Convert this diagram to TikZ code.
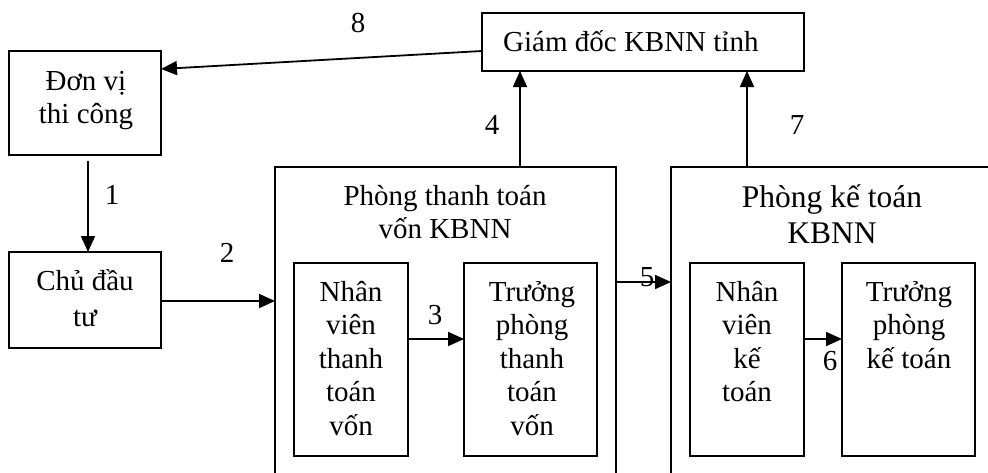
\documentclass[tikz,border=0pt]{standalone}
\usepackage{fontspec}
\setmainfont{Liberation Serif}
\usetikzlibrary{arrows.meta}
\tikzset{
  box/.style={draw, line width=1.8pt, inner sep=0pt, outer sep=0pt},
  txt/.style={anchor=north, inner sep=0pt, align=center, font=\fontsize{29}{33.5}\selectfont},
  bigtxt/.style={anchor=north, inner sep=0pt, align=center, font=\fontsize{31.5}{36}\selectfont},
  num/.style={inner sep=0pt, font=\fontsize{29}{33}\selectfont},
  arr/.style={line width=1.8pt, -{Triangle[length=16pt,width=14pt]}},
}
\newcommand{\fst}{\rule{0pt}{28pt}}
\begin{document}
\begin{tikzpicture}[x=1pt,y=-1pt]
\useasboundingbox (0,0) rectangle (988,472);
\clip (0,0) rectangle (988,472);
% boxes
\node[box, minimum width=152pt, minimum height=104pt] (dv) at (85,103) {};
\node[box, minimum width=152pt, minimum height=96pt] (cdt) at (85,300) {};
\node[box, minimum width=322pt, minimum height=58pt] (gd) at (643,42) {};
\node[box, minimum width=341pt, minimum height=333pt] (ptt) at (445.5,333.5) {};
\node[box, minimum width=339pt, minimum height=333pt] (pkt) at (840.5,333.5) {};
\node[box, minimum width=114pt, minimum height=193pt] (nv1) at (351,359.5) {};
\node[box, minimum width=133pt, minimum height=193pt] (tp1) at (530.5,359.5) {};
\node[box, minimum width=114pt, minimum height=193pt] (nv2) at (747,359.5) {};
\node[box, minimum width=133pt, minimum height=193pt] (tp2) at (908.5,359.5) {};
% texts
\node[txt] (tdv) at (86,62) {\fst Đơn vị\\thi công};
\node[txt, font=\fontsize{29}{36}\selectfont] (tcdt) at (85,262) {\fst Chủ đầu\\tư};
\node[num, anchor=base west] (tgd) at (503,51) {Giám đốc KBNN tỉnh};
\node[txt] (tptt) at (445,177) {\fst Phòng thanh toán\\vốn KBNN};
\node[bigtxt] (tpkt) at (832,178) {\rule{0pt}{29pt}Phòng kế toán\\KBNN};
\node[txt] (tnv1) at (351,273) {\fst Nhân\\viên\\thanh\\toán\\vốn};
\node[txt] (ttp1) at (532,273) {\fst Trưởng\\phòng\\thanh\\toán\\vốn};
\node[txt] (tnv2) at (747,273) {\fst Nhân\\viên\\kế\\toán};
\node[txt] (ttp2) at (909,273) {\fst Trưởng\\phòng\\kế toán};
% helper coordinates
\coordinate (a4) at (520,0);
\coordinate (a7) at (747,0);
\coordinate (a5) at (0,282);
\coordinate (a3) at (0,339);
% connectors
\draw[arr] ([yshift=-9pt]gd.west) -- ([yshift=34pt]dv.east);
\draw[arr] ([xshift=3pt,yshift=-6pt]dv.south) -- ([xshift=3pt]cdt.north);
\draw[arr] ([yshift=-1pt]cdt.east) -- ([yshift=-1pt]cdt.east -| ptt.west);
\draw[arr] (ptt.north -| a4) -- (gd.south -| a4);
\draw[arr] (pkt.north -| a7) -- (gd.south -| a7);
\draw[arr] (nv1.east |- a3) -- (tp1.west |- a3);
\draw[arr] (ptt.east |- a5) -- (pkt.west |- a5);
\draw[arr] (nv2.east |- a3) -- (tp2.west |- a3);
% numbers
\node[num] (n8) at (358,23) {8};
\node[num] (n4) at (492,125) {4};
\node[num] (n7) at (797,125) {7};
\node[num] (n1) at (112,195) {1};
\node[num] (n2) at (227,253) {2};
\node[num] (n3) at (435,315) {3};
\node[num] (n5) at (647,277) {5};
\node[num] (n6) at (830,361) {6};
\end{tikzpicture}
\end{document}
